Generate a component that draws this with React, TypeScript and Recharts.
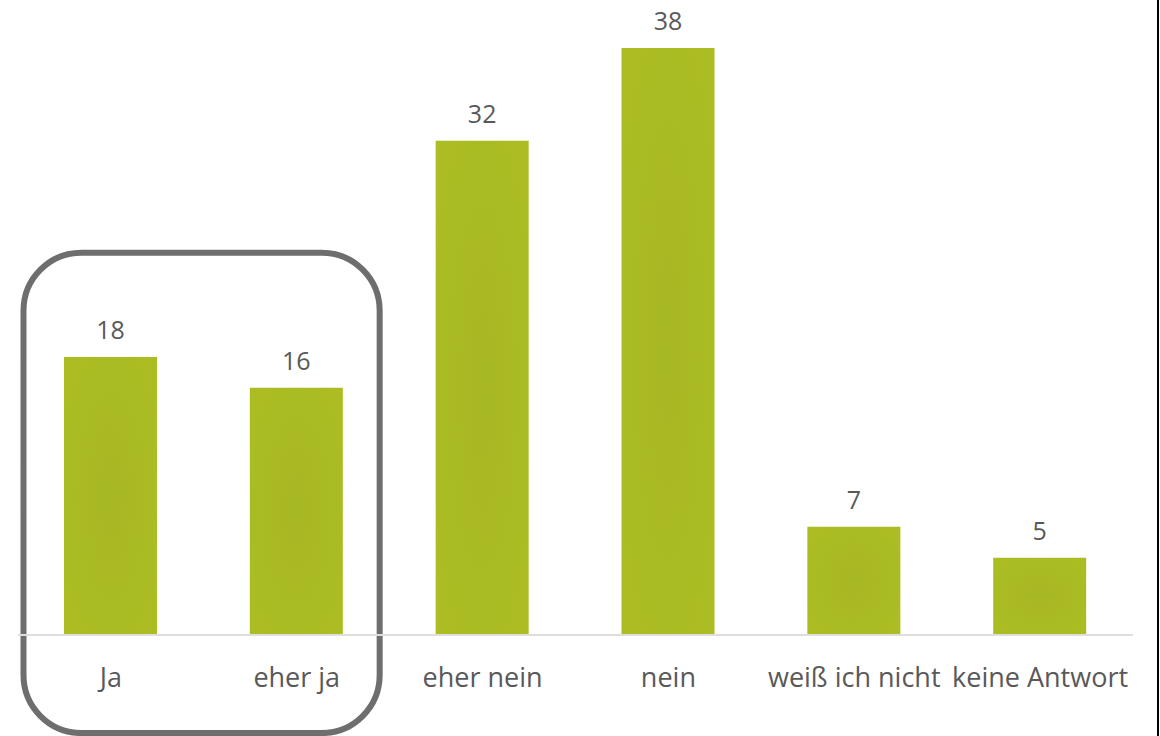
import React from "react";
import { BarChart, Bar, XAxis, YAxis, LabelList, ReferenceArea } from "recharts";

const categories = ["Ja", "eher ja", "eher nein", "nein", "weiß ich nicht", "keine Antwort"];
const values = [18, 16, 32, 38, 7, 5];
const highlightFrom = "Ja";
const highlightTo = "eher ja";

const data = categories.map((c, i) => ({ name: c, value: values[i] }));

const FONT = "'Open Sans', 'Noto Sans', sans-serif";
const TEXT = "#595959";

const RoundedBox = (props: any) => {
  const { x, y, width, height } = props;
  const inset = 5.5;
  return (
    <rect
      x={x + inset}
      y={y}
      width={width - inset - 10}
      height={height}
      rx={58}
      ry={58}
      fill="none"
      stroke="#6e6e6e"
      strokeWidth={6}
    />
  );
};

export default function App() {
  return (
    <div style={{ position: "absolute", left: 0, top: 0, width: 1160, height: 736, background: "#fff" }}>
      <BarChart
        width={1160}
        height={736}
        data={data}
        margin={{ top: 48, right: 27, bottom: 0, left: 18 }}
        barSize={93}
      >
        <defs>
          <radialGradient id="barGrad" cx="50%" cy="50%" r="60%">
            <stop offset="0%" stopColor="#a7b725" />
            <stop offset="100%" stopColor="#abbd22" />
          </radialGradient>
        </defs>
        <XAxis
          dataKey="name"
          height={101}
          axisLine={{ stroke: "#dedede", strokeWidth: 2 }}
          tickLine={false}
          tickSize={0}
          tickMargin={33}
          interval={0}
          tick={{ fill: TEXT, fontSize: 27, fontFamily: FONT }}
        />
        <YAxis hide domain={[0, 38]} />
        <ReferenceArea
          x1={highlightFrom}
          x2={highlightTo}
          y1={-6.35}
          y2={24.75}
          ifOverflow="visible"
          shape={<RoundedBox />}
        />
        <Bar dataKey="value" fill="url(#barGrad)" isAnimationActive={false}>
          <LabelList
            dataKey="value"
            position="top"
            offset={18}
            style={{ fill: TEXT, fontSize: 25, fontFamily: FONT }}
          />
        </Bar>
      </BarChart>
      <div style={{ position: "absolute", left: 1157, top: 0, width: 2, height: 736, background: "#000" }} />
    </div>
  );
}
